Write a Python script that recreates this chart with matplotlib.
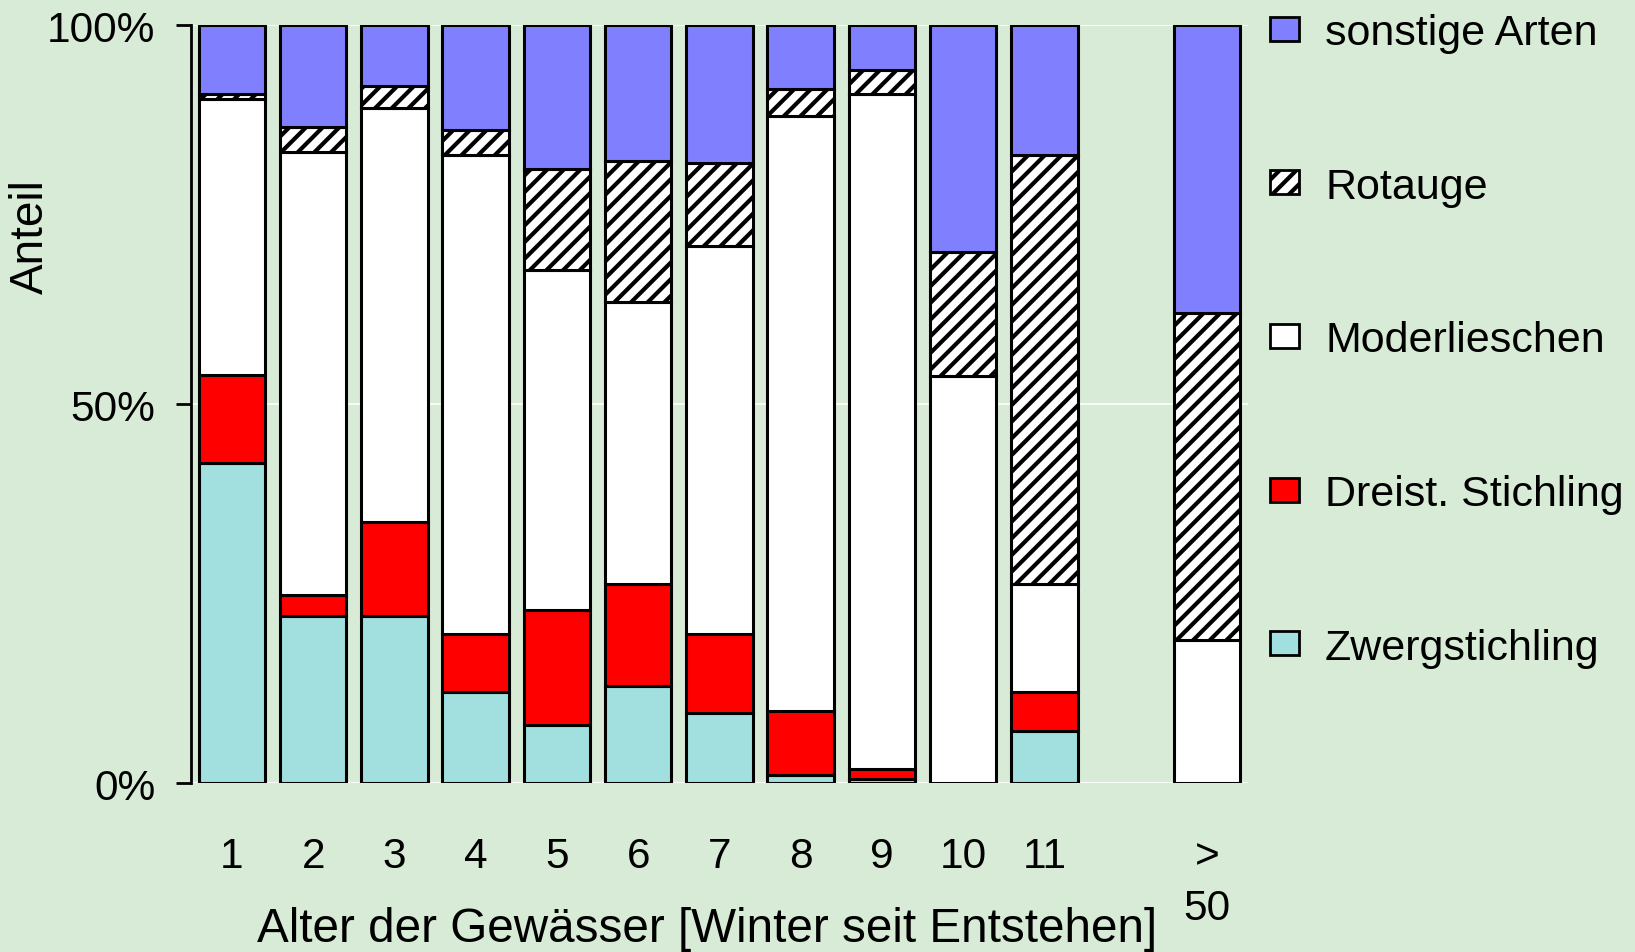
import numpy as np
import matplotlib
matplotlib.use('Agg')
import matplotlib.pyplot as plt

plt.rcParams['font.family'] = ['Liberation Sans', 'DejaVu Sans']
plt.rcParams['hatch.linewidth'] = 3.0

# Alter der Gewaesser (Winter seit Entstehen), letzte Gruppe "> 50"
positions = [1, 2, 3, 4, 5, 6, 7, 8, 9, 10, 11, 13]
tick_labels = ['1', '2', '3', '4', '5', '6', '7', '8', '9', '10', '11', '>\n50']

# Anteile in Prozent, von unten nach oben gestapelt
zwergstichling = [42.2, 22.0, 22.0, 12.0, 7.65, 12.8, 9.2, 1.0, 0.5, 0, 6.8, 0]
dreist_stichling = [11.6, 2.8, 12.5, 7.7, 15.15, 13.5, 10.5, 8.5, 1.4, 0, 5.2, 0]
moderlieschen = [36.4, 58.4, 54.6, 63.2, 44.9, 37.2, 51.2, 78.5, 89.0, 53.7, 14.3, 18.9]
rotauge = [0.7, 3.3, 2.8, 3.2, 13.3, 18.6, 10.85, 3.5, 3.2, 16.4, 56.6, 43.1]
sonstige = [9.1, 13.5, 8.1, 13.9, 19.0, 17.9, 18.25, 8.5, 5.9, 29.9, 17.1, 38.0]

bg = '#d7ebd6'

fig = plt.figure(figsize=(16.35, 9.53), dpi=100, facecolor=bg)
ax = fig.add_axes([0.117, 0.1773, 0.646, 0.7954])
ax.set_facecolor(bg)

series = [
    ('Zwergstichling', zwergstichling, '#a2dfdf', None),
    ('Dreist. Stichling', dreist_stichling, '#ff0000', None),
    ('Moderlieschen', moderlieschen, 'white', None),
    ('Rotauge', rotauge, 'white', '//'),
    ('sonstige Arten', sonstige, '#8080ff', None),
]

bottom = np.zeros(len(positions))
handles = {}
for name, vals, col, hatch in series:
    bars = ax.bar(positions, vals, width=0.82, bottom=bottom, color=col,
                  edgecolor='black', linewidth=2.2, hatch=hatch, label=name)
    handles[name] = bars
    bottom += np.array(vals)

ax.set_xlim(0.5, 13.5)
ax.set_ylim(0, 100)
ax.set_yticks([0, 50, 100])
ax.set_yticklabels(['0%', '50%', '100%'])
ax.set_xticks(positions)
ax.set_xticklabels(tick_labels)
ax.tick_params(axis='x', length=0, pad=38, labelsize=30.5)
ax.tick_params(axis='y', length=11, width=2, pad=15, labelsize=30.5, direction='out')
for t in ax.get_xticklabels():
    t.set_linespacing(1.38)

ax.yaxis.grid(True, color='white', linewidth=1.2)
ax.set_axisbelow(True)
for s in ['top', 'right', 'bottom']:
    ax.spines[s].set_visible(False)
ax.spines['left'].set_linewidth(2)

ax.set_xlabel('Alter der Gewässer [Winter seit Entstehen]', fontsize=34.3, va='center')
ax.xaxis.set_label_coords(707.5 / 1635, 1 - 930 / 953, transform=fig.transFigure)
ax.set_ylabel('Anteil', fontsize=33, va='center')
ax.yaxis.set_label_coords(31 / 1635, 1 - 237 / 953, transform=fig.transFigure)

order = ['sonstige Arten', 'Rotauge', 'Moderlieschen', 'Dreist. Stichling', 'Zwergstichling']
leg = fig.legend([handles[n] for n in order], order, loc='upper left',
                 bbox_to_anchor=(1270 / 1635, 1 - 14 / 953), frameon=False,
                 fontsize=31, handlelength=0.68, handleheight=0.48,
                 handletextpad=0.6, labelspacing=2.64, borderpad=0, borderaxespad=0)
for p in leg.get_patches():
    p.set_linewidth(2)

fig.savefig('out.png', dpi=100, facecolor=bg)
